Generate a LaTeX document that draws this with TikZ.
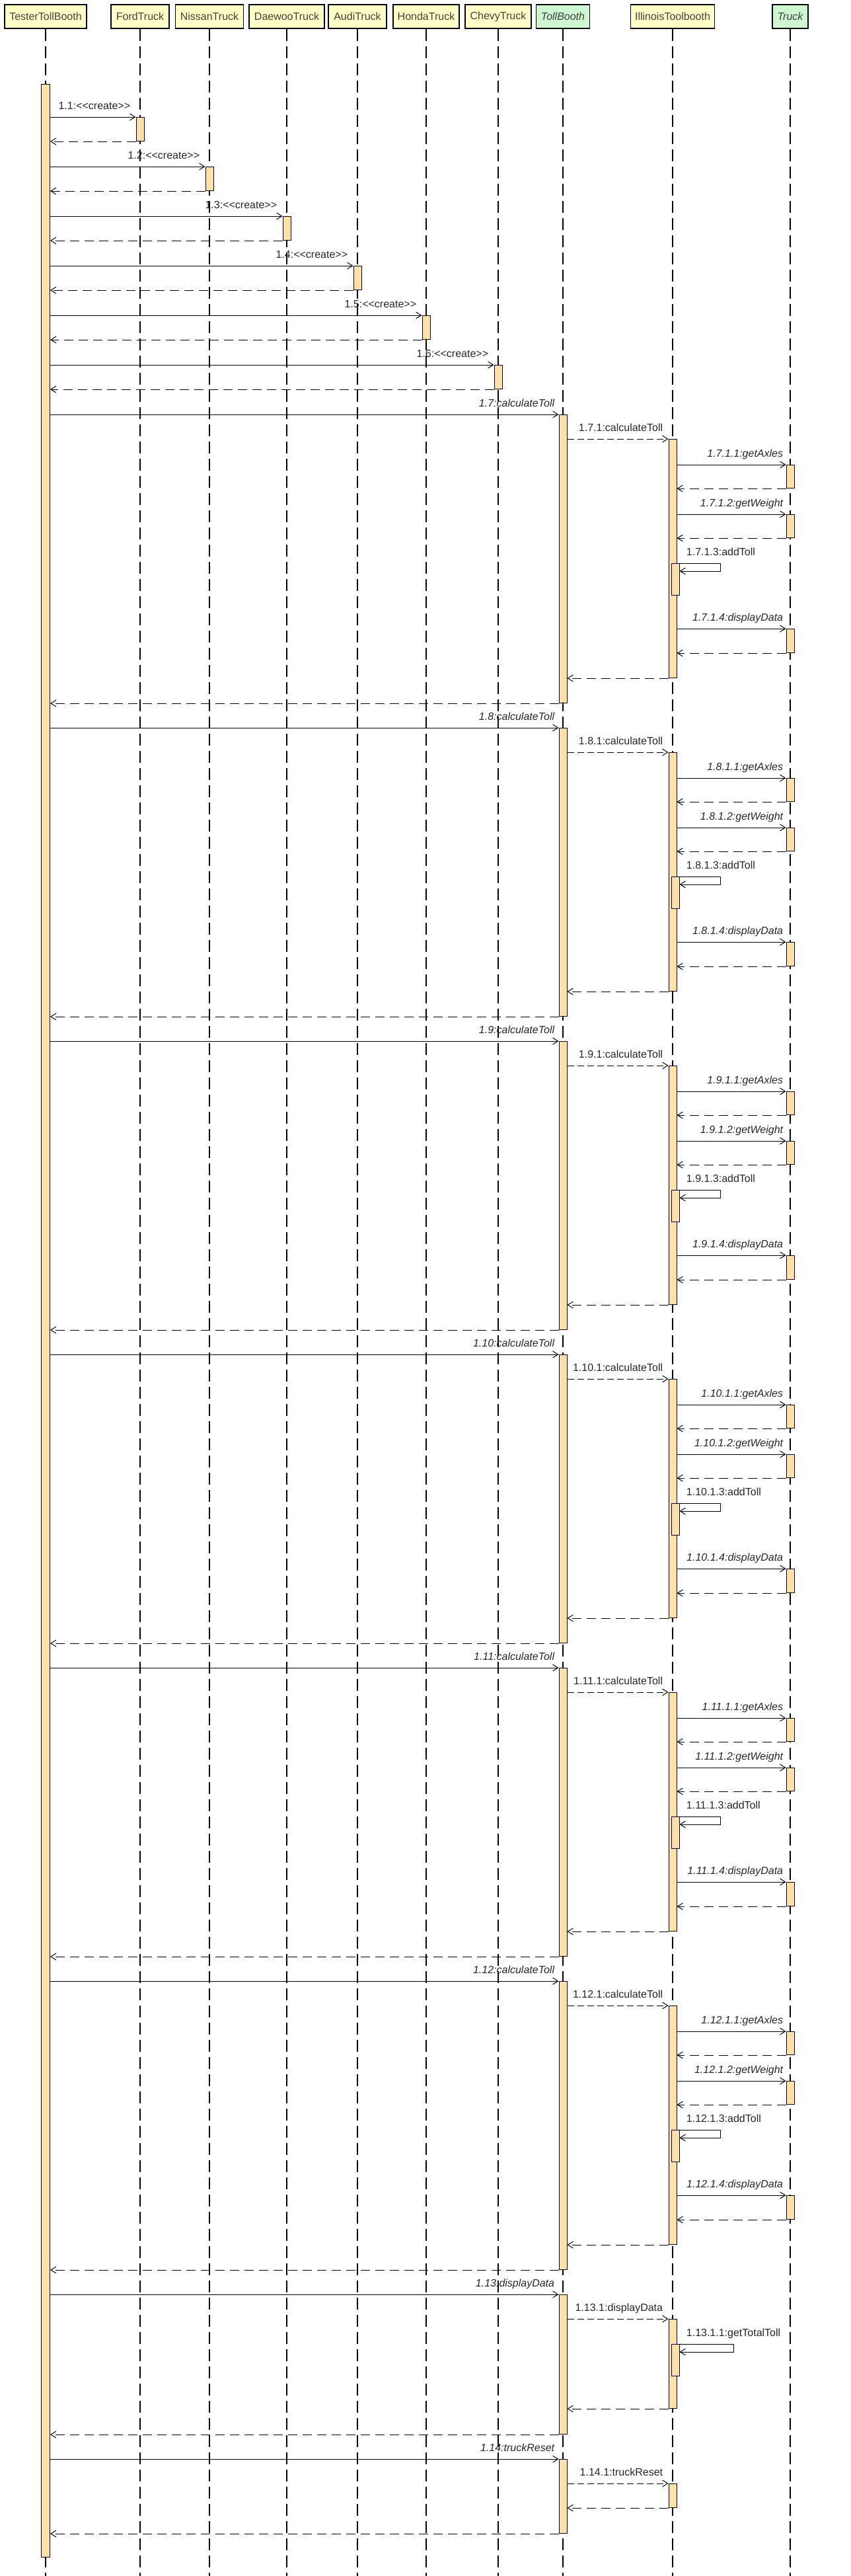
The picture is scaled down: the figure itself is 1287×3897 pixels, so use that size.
\documentclass[tikz,border=0pt]{standalone}
\usepackage{fontspec}
\setmainfont{Liberation Sans}
\usetikzlibrary{arrows.meta}
\definecolor{headyellow}{RGB}{255,255,198}
\definecolor{headgreen}{RGB}{204,247,208}
\definecolor{actorange}{RGB}{255,224,166}
\definecolor{headtext}{RGB}{64,64,64}
\newcommand{\crt}{<\kern0pt<create>\kern0pt>}

\begin{document}
\begin{tikzpicture}[x=0.5pt,y=-0.5pt,font=\fontsize{8}{9.6}\selectfont]
\tikzstyle{head}=[draw=black,line width=0.75pt,fill=headyellow,text=headtext,minimum height=18pt,inner sep=0pt]
\tikzstyle{abstr}=[head,fill=headgreen,font=\fontsize{8}{9.6}\selectfont\itshape]
\tikzstyle{act}=[draw=black,line width=0.5pt,fill=actorange,minimum width=6pt,inner sep=0pt,anchor=north]
\tikzstyle{life}=[line width=0.6pt,dash pattern=on 9pt off 4pt]
\tikzstyle{call}=[line width=0.5pt,-{Straight Barb[length=4pt,width=5pt]}]
\tikzstyle{reply}=[call,dash pattern=on 7pt off 4pt]
\tikzstyle{async}=[call,dash pattern=on 5pt off 2.5pt]
\tikzstyle{msg}=[anchor=base east,inner sep=0pt,text=black!85]
\tikzstyle{op}=[msg,font=\fontsize{8}{9.6}\selectfont\itshape]
\tikzstyle{selflbl}=[anchor=base west,inner sep=0pt,text=black!85]

\useasboundingbox (0,0) rectangle (1287,3897);
\coordinate (bottom) at (0,3897);

% lifeline heads
\node[head,minimum width=62pt] (tester) at (69,25) {TesterTollBooth};
\node[head,minimum width=44pt] (ford) at (212,25) {FordTruck};
\node[head,minimum width=51.5pt] (nissan) at (317,25) {NissanTruck};
\node[head,minimum width=57pt] (daewoo) at (434,25) {DaewooTruck};
\node[head,minimum width=44pt] (audi) at (541,25) {AudiTruck};
\node[head,minimum width=50pt] (honda) at (645,25) {HondaTruck};
\node[head,minimum width=50pt] (chevy) at (754,25) {ChevyTruck};
\node[abstr,minimum width=40.5pt] (toll) at (852,25) {TollBooth};
\node[head,minimum width=63.5pt] (illi) at (1018,25) {IllinoisToolbooth};
\node[abstr,minimum width=27pt] (truck) at (1196,25) {Truck};

\foreach \h in {tester,ford,nissan,daewoo,audi,honda,chevy,toll,illi,truck}
  \draw[life] (\h.south) -- (\h.south |- bottom);

\node[act,minimum width=6.5pt,minimum height=1870.5pt] (testerA) at (tester |- 0,127) {};

% creating the trucks
\foreach \n/\h in {1/ford,2/nissan,3/daewoo,4/audi,5/honda,6/chevy}{
  \node[act,minimum height=18pt] (new\n) at (\h |- 0,102+75*\n) {};
  \draw[call] (testerA.east |- new\n.north) -- (new\n.north west);
  \node[msg] (lnew\n) at ([shift={(-4pt,6pt)}]new\n.north west) {1.\n:\crt};
  \draw[reply] (new\n.south west) -- (testerA.east |- new\n.south west);
}

% one calculateToll per truck
\foreach \n in {7,...,12}{
  \pgfmathtruncatemacro\Y{627+474*(\n-7)}
  \node[act,minimum height=218pt] (tb\n) at (toll |- 0,\Y) {};
  \node[act,minimum height=180.5pt] (il\n) at (illi |- 0,\Y+37) {};
  \node[act,minimum height=17.5pt] (ax\n) at (truck |- 0,\Y+76) {};
  \node[act,minimum height=17.5pt] (wt\n) at (truck |- 0,\Y+151) {};
  \node[act,minimum height=24pt,xshift=2pt] (ad\n) at (illi |- 0,\Y+225) {};
  \node[act,minimum height=18pt] (dd\n) at (truck |- 0,\Y+324) {};
  \draw[call] (testerA.east |- tb\n.north) -- (tb\n.north west);
  \node[op] (ltb\n) at ([shift={(-3pt,6pt)}]tb\n.north west) {1.\n:calculateToll};
  \draw[async] (tb\n.east |- il\n.north) -- (il\n.north west);
  \node[msg] (lil\n) at ([shift={(-4pt,6pt)}]il\n.north west) {1.\n.1:calculateToll};
  \draw[call] (il\n.east |- ax\n.north) -- (ax\n.north west);
  \node[op] (lax\n) at ([shift={(-2pt,6pt)}]ax\n.north west) {1.\n.1.1:getAxles};
  \draw[reply] (ax\n.south west) -- (il\n.east |- ax\n.south west);
  \draw[call] (il\n.east |- wt\n.north) -- (wt\n.north west);
  \node[op] (lwt\n) at ([shift={(-2pt,6pt)}]wt\n.north west) {1.\n.1.2:getWeight};
  \draw[reply] (wt\n.south west) -- (il\n.east |- wt\n.south west);
  \draw[call] (il\n.east |- ad\n.north) -- ++(33pt,0) |- ([yshift=-6pt]ad\n.north east);
  \node[selflbl] (lad\n) at ([shift={(5pt,6pt)}]ad\n.north east) {1.\n.1.3:addToll};
  \draw[call] (il\n.east |- dd\n.north) -- (dd\n.north west);
  \node[op] (ldd\n) at ([shift={(-2pt,6pt)}]dd\n.north west) {1.\n.1.4:displayData};
  \draw[reply] (dd\n.south west) -- (il\n.east |- dd\n.south west);
  \draw[reply] (il\n.south west) -- (tb\n.east |- il\n.south west);
  \draw[reply] (tb\n.south west) -- (testerA.east |- tb\n.south west);
}

% displayData
\node[act,minimum height=105.5pt] (tb13) at (toll |- 0,3471) {};
\node[act,minimum height=67.5pt] (il13) at (illi |- 0,3508) {};
\node[act,minimum height=24pt,xshift=2pt] (gt13) at (illi |- 0,3546) {};
\draw[call] (testerA.east |- tb13.north) -- (tb13.north west);
\node[op] (ltb13) at ([shift={(-3pt,6pt)}]tb13.north west) {1.13:displayData};
\draw[async] (tb13.east |- il13.north) -- (il13.north west);
\node[msg] (lil13) at ([shift={(-4pt,6pt)}]il13.north west) {1.13.1:displayData};
\draw[call] (il13.east |- gt13.north) -- ++(43pt,0) |- ([yshift=-6pt]gt13.north east);
\node[selflbl] (lgt13) at ([shift={(5pt,6pt)}]gt13.north east) {1.13.1.1:getTotalToll};
\draw[reply] (il13.south west) -- (tb13.east |- il13.south west);
\draw[reply] (tb13.south west) -- (testerA.east |- tb13.south west);

% truckReset
\node[act,minimum height=56pt] (tb14) at (toll |- 0,3720) {};
\node[act,minimum height=18pt] (il14) at (illi |- 0,3757) {};
\draw[call] (testerA.east |- tb14.north) -- (tb14.north west);
\node[op] (ltb14) at ([shift={(-3pt,6pt)}]tb14.north west) {1.14:truckReset};
\draw[async] (tb14.east |- il14.north) -- (il14.north west);
\node[msg] (lil14) at ([shift={(-4pt,6pt)}]il14.north west) {1.14.1:truckReset};
\draw[reply] (il14.south west) -- (tb14.east |- il14.south west);
\draw[reply] (tb14.south west) -- (testerA.east |- tb14.south west);
\end{tikzpicture}
\end{document}
